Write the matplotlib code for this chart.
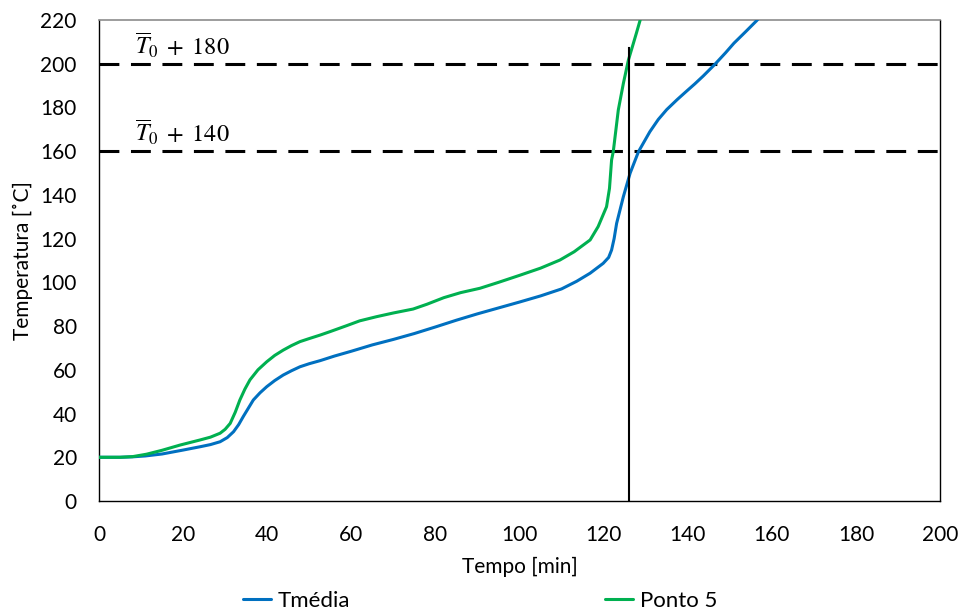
import matplotlib
matplotlib.use("Agg")
import matplotlib.pyplot as plt

plt.rcParams['font.family'] = ['Lato', 'DejaVu Sans']
plt.rcParams['mathtext.fontset'] = 'stix'

# Average temperature (Tmédia) vs time
t_media = [0, 5, 8, 11, 15, 20, 24, 26.5, 28.8, 30.5, 32, 33.2, 34.3, 35.5, 36.7,
           38.3, 39.9, 41.8, 43.8, 45.8, 47.8, 50, 52.6, 56, 60, 65, 70, 75, 80,
           85, 90, 95, 100, 105, 110, 113.6, 116.8, 119.9, 121.2, 121.9, 122.5,
           123.1, 124.7, 126.3, 128.3, 131, 133, 135, 137.5, 139.7, 141.7, 143.7,
           146.5, 149, 151, 153.7, 156.4, 157]
temp_media = [20, 20, 20.2, 20.6, 21.5, 23.3, 24.8, 25.8, 27.1, 29, 31.7, 34.9,
              38.6, 42.4, 46.2, 49.5, 52.3, 55.1, 57.6, 59.6, 61.4, 62.8, 64.2,
              66.3, 68.5, 71.4, 73.9, 76.6, 79.6, 82.7, 85.6, 88.3, 91, 93.8, 97,
              100.5, 104.2, 108.7, 111.4, 114.8, 120, 127, 139.2, 149.9, 159.8,
              168.9, 174.5, 179, 183.6, 187.4, 190.8, 194.4, 199.8, 205, 209.4,
              214.5, 219.7, 221]

# Temperature at measuring point 5 vs time
t_ponto5 = [0, 5, 8, 11.3, 15, 19.3, 24, 26.5, 28.8, 30, 31.2, 32.4, 33.5, 34.7,
            35.9, 37.8, 39.9, 41.8, 43.8, 45.8, 47.8, 50, 52.6, 55, 58.9, 62, 66,
            70, 74.7, 78, 82, 86, 90.6, 95, 100, 105, 109.6, 113, 116.8, 118.7,
            120.7, 121.4, 121.9, 122.3, 123.5, 124.7, 125.9, 126.8, 127.8, 128.7]
temp_ponto5 = [20, 20, 20.3, 21.4, 23.2, 25.6, 27.9, 29.2, 31, 32.8, 35.5, 40.6,
               46.2, 51.2, 55.4, 60, 63.7, 66.6, 69, 71.1, 72.9, 74.3, 75.9, 77.5,
               80.2, 82.4, 84.3, 86, 87.8, 90, 93, 95.3, 97.3, 100, 103.2, 106.5,
               110.2, 114, 119.4, 125.5, 134.6, 143, 156, 159.8, 178.9, 191,
               201.7, 207.5, 214, 220]

x_ticks = list(range(0, 201, 20))
y_ticks = list(range(0, 221, 20))

limit_levels = [160, 200]
limit_labels = [r'$\overline{T}_0\;+\;140$', r'$\overline{T}_0\;+\;180$']
t_critical = 126
t_critical_top = 207

fig = plt.figure(figsize=(9.6, 6.16), dpi=100)
ax = fig.add_axes([99 / 960, 1 - 501 / 616, 841 / 960, 481 / 616])

ax.plot(t_media, temp_media, color='#0070C0', lw=2.2, label='Tmédia',
        solid_joinstyle='round', solid_capstyle='round', zorder=3)
ax.plot(t_ponto5, temp_ponto5, color='#00B050', lw=2.2, label='Ponto 5',
        solid_joinstyle='round', solid_capstyle='round', zorder=3)

for level, text in zip(limit_levels, limit_labels):
    ax.plot([0, 200], [level, level], color='black', lw=2.2,
            dashes=(6.5, 3.8), zorder=2)
    ax.text(8.5, level + 1.8, text, fontsize=17.5, color='black',
            va='bottom', ha='left')

ax.plot([t_critical, t_critical], [0, t_critical_top], color='black', lw=1.5,
        zorder=4)

ax.set_xlim(0, 200)
ax.set_ylim(0, 220)
ax.set_xticks(x_ticks)
ax.set_yticks(y_ticks)
ax.tick_params(axis='x', length=0, labelsize=15, pad=17)
ax.tick_params(axis='y', length=0, labelsize=15, pad=16)
ax.set_xlabel('Tempo [min]', fontsize=15, labelpad=9)
ax.set_ylabel('Temperatura [˚C]', fontsize=15, labelpad=5)

for side in ['left', 'bottom', 'right']:
    ax.spines[side].set_color('black')
    ax.spines[side].set_linewidth(1.0)
ax.spines['top'].set_color('#8c8c8c')
ax.spines['top'].set_linewidth(1.2)

handles, labels = ax.get_legend_handles_labels()
fig.legend(handles, labels, loc='center', bbox_to_anchor=(0.5, 0.024), ncol=2,
           frameon=False, fontsize=16, handlelength=1.26, handletextpad=0.3,
           columnspacing=11.5, borderpad=0.1)

fig.savefig('out.png', dpi=100)
